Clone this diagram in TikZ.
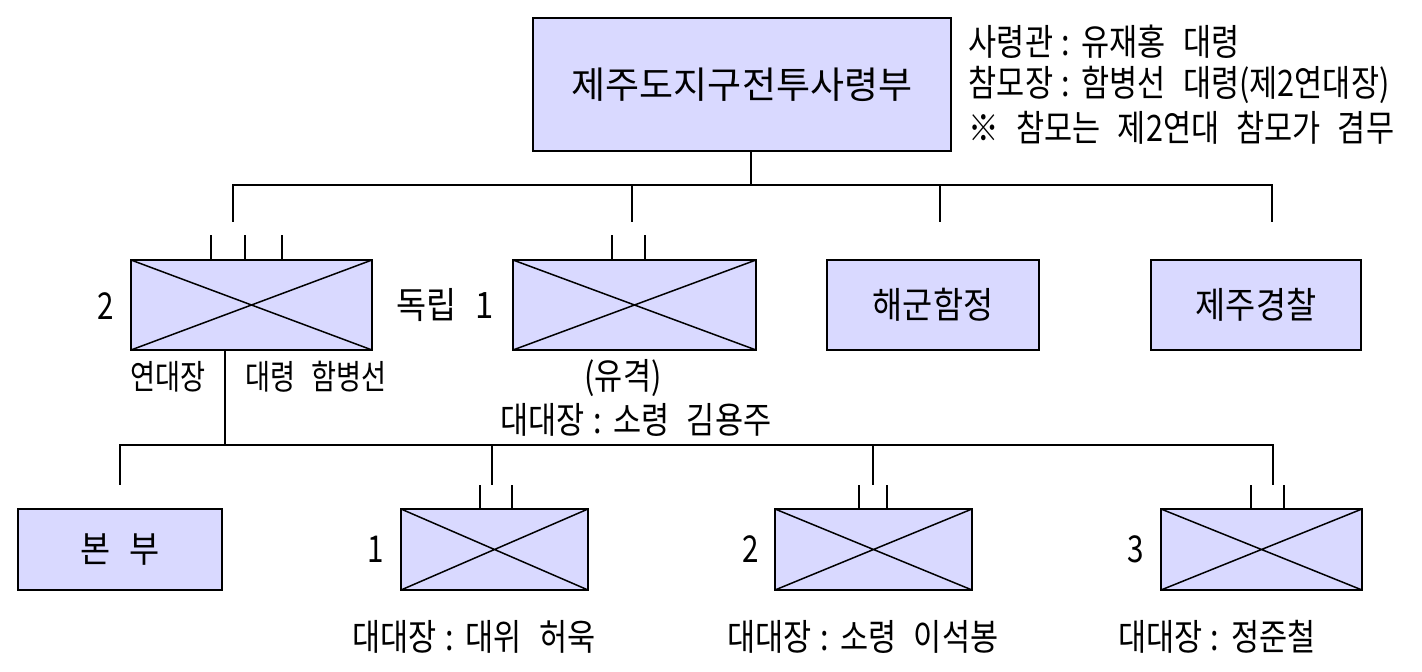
\documentclass[tikz,border=0pt]{standalone}
\usepackage{fontspec}
\setmainfont{Noto Sans CJK KR}[WordSpace=2.5]
\newfontfamily\krbox[FakeStretch=0.9, WordSpace=2.5]{Noto Sans CJK KR}
\newfontfamily\krlbl[FakeStretch=0.8, WordSpace=2.5]{Noto Sans CJK KR}
\newfontfamily\krinfo[FakeStretch=0.84, WordSpace=2.5]{Noto Sans CJK KR}
\newcommand\kcolon{\hspace{4pt}:\hspace{6pt}}
\definecolor{unitfill}{RGB}{217,217,255}
\tikzset{
  unit/.style={draw, fill=unitfill, line width=1pt, inner sep=0pt},
  xunit/.style={unit, path picture={\draw[line width=0.75pt] (path picture bounding box.north west) -- (path picture bounding box.south east) (path picture bounding box.south west) -- (path picture bounding box.north east);}},
  big/.style={font=\krbox\fontsize{18.2}{20}\selectfont},
  num/.style={inner sep=0pt, font=\krlbl\fontsize{18.5}{20}\selectfont},
  lbl/.style={inner sep=0pt, font=\krlbl\fontsize{17}{19}\selectfont},
  info/.style={inner sep=0pt, font=\krinfo\fontsize{18.2}{20}\selectfont},
}
\begin{document}
\begin{tikzpicture}[x=0.5pt, y=-0.5pt, line width=0.75pt]
\useasboundingbox (0,0) rectangle (1422,672);
% top
\node[unit, font=\fontsize{18.5}{20}\selectfont, minimum width=209pt, minimum height=66.5pt] (hq) at (742,84.5){제주도지구전투사령부};
\node[info, anchor=west] (info1) at (968,42){사령관\kcolon 유재홍 대령};
\node[info, anchor=west] (info2) at (968,85){참모장\kcolon 함병선 대령(제2연대장)};
\node[info, anchor=west] (info3) at (968,128){※ 참모는 제2연대 참모가 겸무};
% second row
\node[xunit, minimum width=120.5pt, minimum height=45pt] (reg2) at (251.5,305){};
\node[xunit, minimum width=121.5pt, minimum height=45pt] (ind1) at (634.5,305){};
\node[unit, big, minimum width=106pt, minimum height=45pt] (navy) at (933,305){해군함정};
\node[unit, big, minimum width=105pt, minimum height=45pt] (police) at (1256,305){제주경찰};
\node[num] (reg2num) at (106,306){2};
\node[inner sep=0pt, big] (ind1num) at (445,305){독립 1};
\node[lbl] (reg2cmd) at (168,377){연대장};
\node[lbl] (reg2name) at (316,377){대령 함병선};
\node[info] (ind1type) at (623,378){(유격)};
\node[info] (ind1cmd) at (636,420){대대장\kcolon 소령 김용주};
\foreach \tx in {211,245,282} \draw (reg2.north -| \tx,0) -- ++(0,-24);
\foreach \tx in {612,645} \draw (ind1.north -| \tx,0) -- ++(0,-24);
% third row
\node[unit, big, minimum width=102pt, minimum height=40.5pt] (bhq) at (120,549.5){본 부};
\node[xunit, minimum width=93.5pt, minimum height=40.5pt] (bn1) at (494.5,549.5){};
\node[xunit, minimum width=98.5pt, minimum height=40.5pt] (bn2) at (873.5,549.5){};
\node[xunit, minimum width=100.5pt, minimum height=40.5pt] (bn3) at (1261.5,549.5){};
\node[num] (bn1num) at (376,549){1};
\node[num] (bn2num) at (751,549){2};
\node[num] (bn3num) at (1136,549){3};
\node[info] (bn1cmd) at (474,637){대대장\kcolon 대위 허욱};
\node[info] (bn2cmd) at (863,637){대대장\kcolon 소령 이석봉};
\node[info] (bn3cmd) at (1217,637){대대장\kcolon 정준철};
\foreach \tx in {480,512} \draw (bn1.north -| \tx,0) -- ++(0,-23);
\foreach \tx in {859,887} \draw (bn2.north -| \tx,0) -- ++(0,-23);
\foreach \tx in {1251,1284} \draw (bn3.north -| \tx,0) -- ++(0,-23);
% connectors
\coordinate (b1) at (751,185);
\coordinate (d1) at (233,222);
\coordinate (d2) at (632,222);
\coordinate (d3) at (940,222);
\coordinate (d4) at (1272,222);
\draw[](b1 |- hq.south) -- (b1);
\draw[](d1) -- (d1 |- b1) -- (d4 |- b1) -- (d4);
\draw[](d2 |- b1) -- (d2);
\draw[](d3 |- b1) -- (d3);
\coordinate (b2) at (225,445);
\coordinate (e1) at (120,485);
\coordinate (e2) at (492,485);
\coordinate (e3) at (873,485);
\coordinate (e4) at (1273,485);
\draw[](b2 |- reg2.south) -- (b2);
\draw[](e1) -- (e1 |- b2) -- (e4 |- b2) -- (e4);
\draw[](e2 |- b2) -- (e2);
\draw[](e3 |- b2) -- (e3);
\end{tikzpicture}
\end{document}
